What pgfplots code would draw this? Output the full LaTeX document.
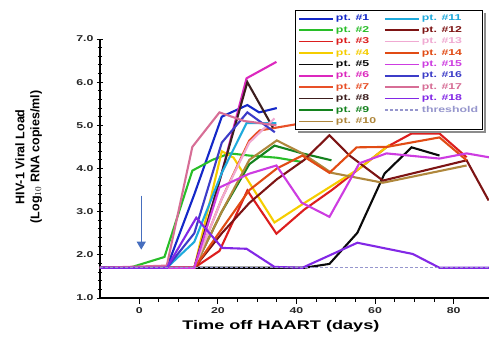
\documentclass[border=0pt]{standalone}
\usepackage{fontspec}
\setmainfont{Liberation Sans}
\newfontfamily\sw{Liberation Sans}[FakeStretch=1.45]
\usepackage{pgfplots}
\pgfplotsset{compat=1.18}
\usetikzlibrary{calc,arrows.meta}
\definecolor{c1}{RGB}{20,40,200}
\definecolor{c2}{RGB}{40,190,40}
\definecolor{c3}{RGB}{220,30,30}
\definecolor{c4}{RGB}{245,205,0}
\definecolor{c5}{RGB}{10,10,10}
\definecolor{c6}{RGB}{220,40,190}
\definecolor{c7}{RGB}{232,80,40}
\definecolor{c8}{RGB}{60,30,30}
\definecolor{c9}{RGB}{20,130,30}
\definecolor{c10}{RGB}{175,135,60}
\definecolor{c11}{RGB}{30,170,220}
\definecolor{c12}{RGB}{125,20,20}
\definecolor{c13}{RGB}{240,170,210}
\definecolor{c14}{RGB}{225,75,20}
\definecolor{c15}{RGB}{205,60,225}
\definecolor{c16}{RGB}{60,60,200}
\definecolor{c17}{RGB}{215,110,150}
\definecolor{c18}{RGB}{130,40,230}
\definecolor{thr}{RGB}{150,150,205}
\definecolor{arr}{RGB}{70,110,190}
\begin{document}
\begin{tikzpicture}
\begin{axis}[
  name=ax,
  scale only axis, width=389pt, height=259pt,
  xmin=-10, xmax=89, ymin=1, ymax=7,
  axis lines=left, axis line style={-, line width=1.2pt},
  xtick={0,20,40,60,80}, minor x tick num=3,
  ytick={1,2,3,4,5,6,7}, minor y tick num=4,
  x tick style={line width=0.9pt, black}, y tick style={line width=0.9pt, black},
  xtick align=outside, ytick align=center,
  major tick length=6pt, minor tick length=4pt,
  tick label style={font=\sw\bfseries\fontsize{8.5}{10}\selectfont, text=black!85},
  /pgf/number format/assume math mode=true,
  yticklabel style={/pgf/number format/.cd, fixed, fixed zerofill, precision=1},
  xlabel={Time off HAART (days)},
  xlabel style={font=\sw\bfseries\fontsize{12.5}{14}\selectfont, at={(axis description cs:0.465,-0.108)}, anchor=center},
  ylabel={\begin{tabular}{c}HIV-1 Viral Load\\(Log$_{10}$ RNA copies/ml)\end{tabular}},
  ylabel style={font=\bfseries\fontsize{12.5}{15}\selectfont, at={(axis description cs:-0.183,0.545)}, anchor=center},
  every axis plot/.append style={line width=2.1pt},
  legend style={name=leg, at={(0.985,1.112)}, anchor=north east, draw=black, line width=1.2pt, fill=white,
    font=\sw\bfseries\fontsize{8.5}{9}\selectfont, inner sep=2.5pt, row sep=0pt,
    /tikz/every even column/.append style={column sep=6pt}},
  legend cell align=left,
  legend columns=10, transpose legend,
  legend image code/.code={\draw[#1, line width=1.6pt] (0cm,0cm) -- (1.2cm,0cm);},
]
\addplot[c1] coordinates {(-10,1.7) (7,1.7) (14,3.4) (21,5.2) (27.5,5.47) (30.5,5.3) (35,5.4)};
\addlegendentry{\textcolor{c1}{pt. \#1}}
\addplot[c2] coordinates {(-10,1.7) (-2.5,1.7) (6.4,1.95) (13.5,3.95) (18.6,4.2) (23,4.35) (28,4.3) (35,4.25) (41.5,4.15)};
\addlegendentry{\textcolor{c2}{pt. \#2}}
\addplot[c3] coordinates {(-10,1.7) (14,1.7) (20.4,2.09) (27.5,3.49) (34.9,2.49) (42,3.05) (49,3.5) (56,4.0) (63,4.5) (69.3,4.81) (76.4,4.81) (83.3,4.26)};
\addlegendentry{\textcolor{c3}{pt. \#3}}
\addplot[c4] coordinates {(-10,1.7) (14,1.7) (21,4.4) (24,4.25) (34.4,2.75) (42,3.2) (49,3.6) (56,4.0) (63.7,4.55)};
\addlegendentry{\textcolor{c4}{pt. \#4}}
\addplot[c5] coordinates {(-10,1.7) (42,1.7) (48.4,1.79) (55.5,2.51) (62.4,3.88) (69.3,4.49) (76.4,4.30)};
\addlegendentry{\textcolor{c5}{pt. \#5}}
\addplot[c6] coordinates {(-10,1.7) (14,1.7) (21,3.9) (27.3,6.09) (34.9,6.47)};
\addlegendentry{\textcolor{c6}{pt. \#6}}
\addplot[c7] coordinates {(-10,1.7) (14,1.7) (21,3.3) (28,4.65) (30.6,4.88) (41.5,5.05)};
\addlegendentry{\textcolor{c7}{pt. \#7}}
\addplot[c8] coordinates {(-10,1.7) (14,1.7) (21,3.9) (27.5,6.0) (34,4.95)};
\addlegendentry{\textcolor{c8}{pt. \#8}}
\addplot[c9] coordinates {(-10,1.7) (14,1.7) (21,3.0) (28,4.1) (34.4,4.53) (41.5,4.35) (48.9,4.19)};
\addlegendentry{\textcolor{c9}{pt. \#9}}
\addplot[c10] coordinates {(-10,1.7) (14,1.7) (21,3.0) (28,4.2) (35,4.65) (41.5,4.35) (48.9,3.9) (62,3.67) (83.3,4.07)};
\addlegendentry{\textcolor{c10}{pt. \#10}}
\addplot[c11] coordinates {(-10,1.7) (7,1.7) (14,2.3) (21,3.9) (27.3,5.05) (34.9,5.05)};
\addlegendentry{\textcolor{c11}{pt. \#11}}
\addplot[c12] coordinates {(-10,1.7) (14,1.7) (21,2.5) (28,3.2) (35,3.75) (42,4.2) (48.4,4.77) (53.5,4.3) (62,3.72) (83.3,4.19) (88.9,3.26)};
\addlegendentry{\textcolor{c12}{pt. \#12}}
\addplot[c13] coordinates {(-10,1.7) (14,1.7) (21,3.3) (28,4.6) (34.4,5.16)};
\addlegendentry{\textcolor{c13}{pt. \#13}}
\addplot[c14] coordinates {(-10,1.7) (14,1.7) (21,2.6) (28,3.5) (35,4.0) (41.5,4.3) (48.4,3.9) (55.3,4.49) (63,4.5) (76.4,4.72) (83.3,4.19)};
\addlegendentry{\textcolor{c14}{pt. \#14}}
\addplot[c15] coordinates {(-10,1.7) (14,1.7) (20.4,3.56) (28,3.88) (34.9,4.07) (41.3,3.21) (48.4,2.88) (56,4.12) (62.9,4.35) (76.4,4.23) (83.3,4.35) (89,4.26)};
\addlegendentry{\textcolor{c15}{pt. \#15}}
\addplot[c16] coordinates {(-10,1.7) (7,1.7) (14,2.5) (21,4.6) (27.5,5.3) (34.5,4.84)};
\addlegendentry{\textcolor{c16}{pt. \#16}}
\addplot[c17] coordinates {(-10,1.7) (7,1.75) (13.5,4.5) (20.4,5.3) (26.7,5.1) (34.9,5.0)};
\addlegendentry{\textcolor{c17}{pt. \#17}}
\addplot[c18] coordinates {(-10,1.7) (7,1.7) (14.5,2.86) (21.1,2.16) (27.3,2.14) (34.4,1.72) (41.5,1.7) (55.5,2.28) (69.6,2.02) (76.4,1.7) (89,1.7)};
\addlegendentry{\textcolor{c18}{pt. \#18}}
\addplot[thr, line width=1pt, dash pattern=on 3pt off 2pt] coordinates {(-10,1.7) (89,1.7)};
\addlegendentry{\textcolor{thr}{threshold}}
\draw[arr, line width=1.2pt, -{Triangle[length=8pt,width=9pt]}] (axis cs:0.5,3.37) -- (axis cs:0.5,2.12);
\end{axis}
\draw[black!45, line width=2pt] ($(leg.north east)+(1.8pt,-3pt)$) -- ($(leg.south east)+(1.8pt,-1.8pt)$) -- ($(leg.south west)+(3pt,-1.8pt)$);
\pgfresetboundingbox
\path[use as bounding box] ($(ax.south west)+(-100pt,-43pt)$) rectangle ($(ax.north east)+(0pt,39pt)$);
\end{tikzpicture}
\end{document}
